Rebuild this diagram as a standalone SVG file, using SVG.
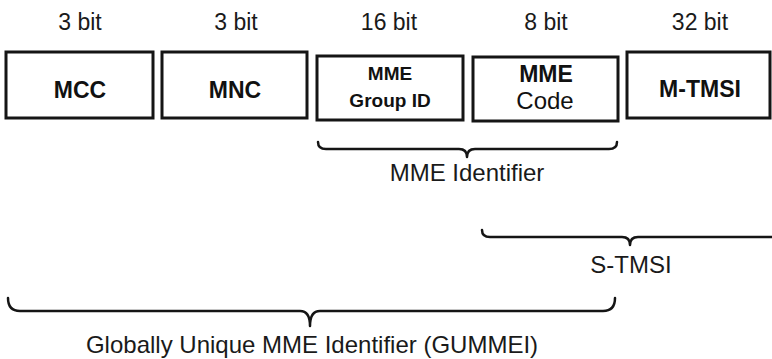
<svg xmlns="http://www.w3.org/2000/svg" width="772" height="359" viewBox="0 0 772 359">
<style>
.bg{fill:#ffffff}
.box{fill:#ffffff;stroke:#151515;stroke-width:3}
.bits{font-family:"Liberation Sans",Arial,sans-serif;font-size:23px;fill:#1a1a1a;text-anchor:middle}
.lbl{font-family:"Liberation Sans",Arial,sans-serif;font-size:23px;font-weight:bold;fill:#111;text-anchor:middle}
.lbls{font-family:"Liberation Sans",Arial,sans-serif;font-size:19px;font-weight:bold;fill:#111;text-anchor:middle}
.lbln{font-family:"Liberation Sans",Arial,sans-serif;font-size:24px;fill:#111;text-anchor:middle}
.cap{font-family:"Liberation Sans",Arial,sans-serif;font-size:24px;fill:#1a1a1a;text-anchor:middle}
.brace{fill:none;stroke:#151515;stroke-width:2.5;stroke-linejoin:round;stroke-linecap:round}
</style>
<rect class="bg" x="0" y="0" width="772" height="359"/>
<g id="bit-labels">
<text class="bits" x="80" y="30">3 bit</text>
<text class="bits" x="236" y="30">3 bit</text>
<text class="bits" x="389" y="30">16 bit</text>
<text class="bits" x="546" y="30">8 bit</text>
<text class="bits" x="700" y="30">32 bit</text>
</g>
<g id="mcc">
<rect class="box" x="6" y="52" width="147" height="66"/>
<text class="lbl" x="80" y="98">MCC</text>
</g>
<g id="mnc">
<rect class="box" x="162" y="52" width="145" height="66"/>
<text class="lbl" x="235" y="98">MNC</text>
</g>
<g id="mme-group-id">
<rect class="box" x="317" y="56" width="146" height="64"/>
<text class="lbls" x="390" y="80">MME</text>
<text class="lbls" x="390" y="107">Group ID</text>
</g>
<g id="mme-code">
<rect class="box" x="473" y="57" width="145" height="64"/>
<text class="lbl" x="546" y="82">MME</text>
<text class="lbln" x="545" y="109">Code</text>
</g>
<g id="m-tmsi">
<rect class="box" x="627" y="52" width="143" height="66"/>
<text class="lbl" x="700" y="97">M-TMSI</text>
</g>
<g id="connectors">
<path class="brace" d="M318,142 Q318,149 326,149 L459,149 Q467,149 467,157 Q467,149 475,149 L609,149 Q617,149 617,142"/>
<path class="brace" d="M482,230 Q482,237 490,237 L622,237 Q630,237 630,245 Q630,237 638,237 L780,237"/>
<path class="brace" d="M8,298 Q8,311 20,311 L300,311 Q310,311 310,326 Q310,311 320,311 L603,311 Q615,311 615,298"/>
</g>
<g id="captions">
<text class="cap" x="467" y="181">MME Identifier</text>
<text class="cap" x="631" y="273">S-TMSI</text>
<text class="cap" x="312" y="353">Globally Unique MME Identifier (GUMMEI)</text>
</g>
</svg>
